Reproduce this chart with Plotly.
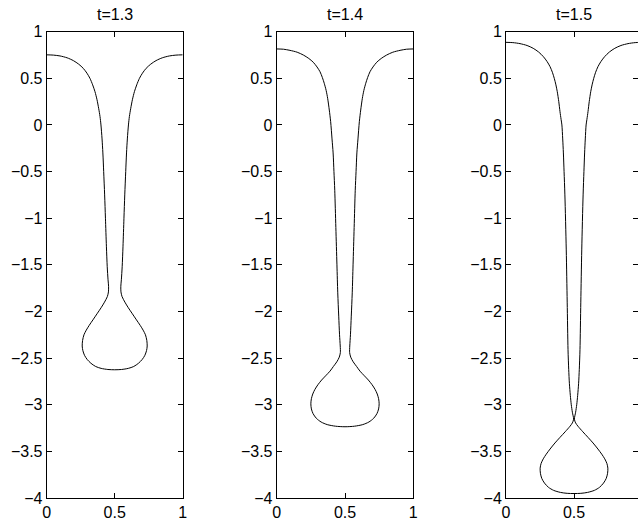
import plotly.graph_objects as go

# ---- data ----
titles = ["t=1.3", "t=1.4", "t=1.5"]

# t = 1.3 : left branch (top -> bottom of bulb), then right branch (bottom -> top)
x_t13_left = [0.000, 0.050, 0.098, 0.150, 0.196, 0.235, 0.269, 0.296, 0.318, 0.338, 0.355, 0.370, 0.382,
              0.392, 0.399, 0.407, 0.413, 0.419, 0.426, 0.432, 0.439, 0.445, 0.451, 0.455, 0.454, 0.446, 0.425,
              0.400, 0.370, 0.340, 0.312, 0.291, 0.274, 0.264, 0.261, 0.266, 0.278, 0.298, 0.325, 0.360,
              0.400, 0.450, 0.500]
y_t13_left = [0.752, 0.749, 0.740, 0.720, 0.690, 0.652, 0.607, 0.555, 0.500, 0.430, 0.357, 0.270, 0.179,
              0.090, 0.000, -0.150, -0.300, -0.500, -0.750, -1.000, -1.300, -1.520, -1.660, -1.730, -1.790, -1.840, -1.900,
              -1.960, -2.025, -2.090, -2.150, -2.200, -2.250, -2.310, -2.370, -2.420, -2.470, -2.515, -2.555, -2.590,
              -2.610, -2.622, -2.625]
x_t13_right = [0.550, 0.600, 0.640, 0.675, 0.702, 0.722, 0.734, 0.739, 0.736, 0.726, 0.709, 0.688, 0.660,
               0.630, 0.600, 0.575, 0.554, 0.546, 0.545, 0.549, 0.555, 0.561, 0.568, 0.574, 0.581, 0.587, 0.593,
               0.601, 0.608, 0.618, 0.630, 0.645, 0.662, 0.682, 0.704, 0.731, 0.765, 0.804, 0.850, 0.902,
               0.950, 1.000]
y_t13_right = [-2.622, -2.610, -2.590, -2.555, -2.515, -2.470, -2.420, -2.370, -2.310, -2.250, -2.200, -2.150, -2.090,
               -2.025, -1.960, -1.900, -1.840, -1.790, -1.730, -1.660, -1.520, -1.300, -1.000, -0.750, -0.500, -0.300, -0.150,
               0.000, 0.090, 0.179, 0.270, 0.357, 0.430, 0.500, 0.555, 0.607, 0.652, 0.690, 0.720, 0.740,
               0.749, 0.752]

# t = 1.4
x_t14_left = [0.000, 0.050, 0.097, 0.150, 0.195, 0.235, 0.268, 0.295, 0.317, 0.334, 0.348, 0.362, 0.373,
              0.385, 0.395, 0.405, 0.413, 0.419, 0.425, 0.433, 0.441, 0.447, 0.454, 0.460, 0.465, 0.466, 0.458,
              0.440, 0.415, 0.390, 0.358, 0.329, 0.302, 0.280, 0.264, 0.254, 0.250, 0.254, 0.266, 0.290,
              0.325, 0.370, 0.430, 0.500]
y_t14_left = [0.815, 0.812, 0.800, 0.780, 0.750, 0.713, 0.672, 0.622, 0.571, 0.510, 0.447, 0.370, 0.286,
              0.160, 0.035, -0.150, -0.300, -0.500, -0.700, -1.100, -1.500, -1.800, -2.050, -2.250, -2.370, -2.440, -2.490,
              -2.540, -2.590, -2.640, -2.690, -2.735, -2.785, -2.835, -2.885, -2.935, -2.990, -3.045, -3.095, -3.145,
              -3.185, -3.213, -3.230, -3.236]
x_t14_right = [0.570, 0.630, 0.675, 0.710, 0.734, 0.746, 0.750, 0.746, 0.736, 0.720, 0.698, 0.671, 0.642,
               0.610, 0.585, 0.560, 0.542, 0.534, 0.535, 0.540, 0.546, 0.553, 0.559, 0.567, 0.575, 0.581, 0.587,
               0.595, 0.605, 0.615, 0.627, 0.638, 0.652, 0.666, 0.683, 0.705, 0.732, 0.765, 0.805, 0.850,
               0.903, 0.950, 1.000]
y_t14_right = [-3.230, -3.213, -3.185, -3.145, -3.095, -3.045, -2.990, -2.935, -2.885, -2.835, -2.785, -2.735, -2.690,
               -2.640, -2.590, -2.540, -2.490, -2.440, -2.370, -2.250, -2.050, -1.800, -1.500, -1.100, -0.700, -0.500, -0.300,
               -0.150, 0.035, 0.160, 0.286, 0.370, 0.447, 0.510, 0.571, 0.622, 0.672, 0.713, 0.750, 0.780,
               0.800, 0.812, 0.815]

# t = 1.5
x_t15_left = [0.000, 0.050, 0.103, 0.155, 0.200, 0.240, 0.275, 0.302, 0.324, 0.341, 0.355, 0.367, 0.377,
              0.388, 0.397, 0.405, 0.411, 0.417, 0.422, 0.427, 0.433, 0.443, 0.450, 0.456, 0.461, 0.466, 0.473,
              0.480, 0.488, 0.497, 0.488, 0.471, 0.435, 0.397, 0.360, 0.324, 0.296, 0.274, 0.258, 0.251,
              0.253, 0.263, 0.283, 0.312, 0.350, 0.400, 0.450, 0.500]
y_t15_left = [0.886, 0.883, 0.872, 0.852, 0.822, 0.782, 0.732, 0.680, 0.625, 0.565, 0.500, 0.430, 0.357,
              0.250, 0.143, 0.060, 0.000, -0.150, -0.300, -0.500, -0.750, -1.340, -1.900, -2.410, -2.620, -2.770, -2.900,
              -3.000, -3.080, -3.155, -3.195, -3.230, -3.290, -3.350, -3.410, -3.475, -3.530, -3.580, -3.630, -3.680,
              -3.735, -3.790, -3.840, -3.885, -3.918, -3.940, -3.950, -3.952]
x_t15_right = [0.550, 0.600, 0.650, 0.688, 0.717, 0.737, 0.747, 0.749, 0.742, 0.726, 0.704, 0.676, 0.640,
               0.603, 0.565, 0.529, 0.512, 0.503, 0.512, 0.520, 0.527, 0.534, 0.539, 0.544, 0.550, 0.557,
               0.567, 0.573, 0.578, 0.583, 0.589, 0.595, 0.603, 0.612, 0.623, 0.633, 0.645, 0.659, 0.676, 0.698,
               0.725, 0.760, 0.800, 0.845, 0.897, 0.950, 1.000]
y_t15_right = [-3.950, -3.940, -3.918, -3.885, -3.840, -3.790, -3.735, -3.680, -3.630, -3.580, -3.530, -3.475, -3.410,
               -3.350, -3.290, -3.230, -3.195, -3.155, -3.080, -3.000, -2.900, -2.770, -2.620, -2.410, -1.900, -1.340,
               -0.750, -0.500, -0.300, -0.150, 0.000, 0.060, 0.143, 0.250, 0.357, 0.430, 0.500, 0.565, 0.625, 0.680,
               0.732, 0.782, 0.822, 0.852, 0.872, 0.883, 0.886]

y_tickvals = [1, 0.5, 0, -0.5, -1, -1.5, -2, -2.5, -3, -3.5, -4]
y_ticktext = ["1", "0.5", "0", "\u22120.5", "\u22121", "\u22121.5", "\u22122", "\u22122.5", "\u22123", "\u22123.5", "\u22124"]
x_tickvals = [0, 0.5, 1]
x_ticktext = ["0", "0.5", "1"]

# ---- layout geometry ----
W, H = 638, 527
x_domains = [[46.7 / W, 182.7 / W], [276.7 / W, 413.3 / W], [506 / W, 1.0]]
x_ranges = [[0, 1], [0, 1], [0, (638 - 506) / 136.0]]
title_centers = [114.7 / W, 345.0 / W, 574.0 / W]
y_domain = [1 - 498.0 / H, 1 - 31.7 / H]

FONT = dict(family="Liberation Sans, Arial, Helvetica, sans-serif", size=16, color="black")

fig = go.Figure()
curves = [
    (x_t13_left + x_t13_right, y_t13_left + y_t13_right),
    (x_t14_left + x_t14_right, y_t14_left + y_t14_right),
    (x_t15_left + x_t15_right, y_t15_left + y_t15_right),
]
for i, (xs, ys) in enumerate(curves):
    sfx = "" if i == 0 else str(i + 1)
    fig.add_trace(go.Scatter(x=xs, y=ys, mode="lines",
                             line=dict(color="black", width=1, shape="spline", smoothing=0.8),
                             xaxis="x" + sfx, yaxis="y" + sfx, showlegend=False, hoverinfo="skip"))

# empty trace hosting the right-side tick axis of the clipped third panel
fig.add_trace(go.Scatter(x=[], y=[], xaxis="x3", yaxis="y4", showlegend=False))

layout = dict(width=W, height=H, margin=dict(l=0, r=0, t=0, b=0),
              paper_bgcolor="white", plot_bgcolor="white", font=FONT, showlegend=False)
axis_common = dict(showgrid=False, zeroline=False, showline=True, linecolor="black", linewidth=1,
                   ticks="inside", ticklen=5, tickwidth=1, tickcolor="black", automargin=False,
                   tickfont=FONT)
annotations = []
for i in range(3):
    sfx = "" if i == 0 else str(i + 1)
    layout["xaxis" + sfx] = dict(axis_common, domain=x_domains[i], range=x_ranges[i],
                                 anchor="y" + sfx, tickvals=x_tickvals, ticktext=x_ticktext,
                                 mirror="ticks")
    layout["yaxis" + sfx] = dict(axis_common, domain=y_domain, range=[-4, 1],
                                 anchor="x" + sfx, tickvals=y_tickvals, ticktext=y_ticktext,
                                 mirror="ticks" if i < 2 else False)
    annotations.append(dict(text=titles[i], x=title_centers[i], y=1 - 14.5 / H, xref="paper", yref="paper",
                            xanchor="center", yanchor="middle", showarrow=False, font=FONT))

layout["yaxis4"] = dict(overlaying="y3", side="right", anchor="free", position=1.0, range=[-4, 1],
                        showgrid=False, zeroline=False, showline=False, ticks="inside", ticklen=5,
                        tickcolor="black", tickvals=y_tickvals, showticklabels=False, automargin=False)
layout["annotations"] = annotations
fig.update_layout(**layout)

fig.write_html("out.html")
